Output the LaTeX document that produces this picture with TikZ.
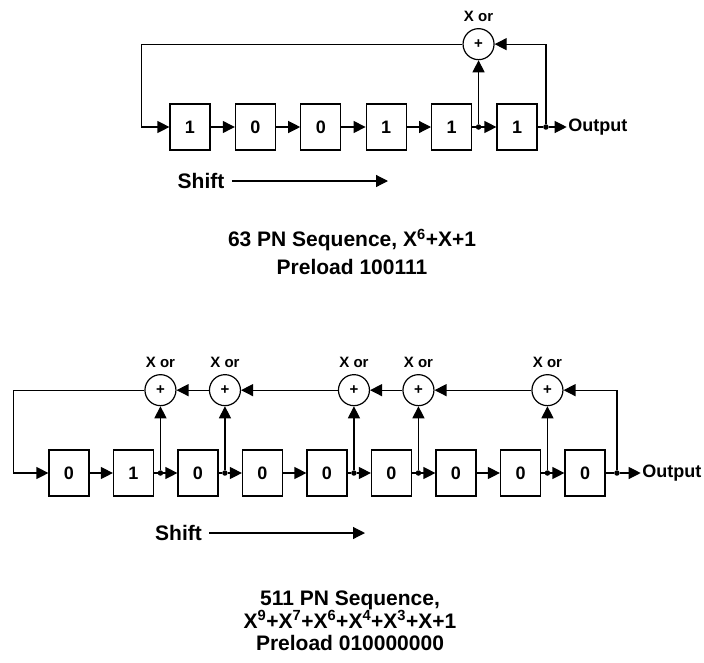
\documentclass[tikz,border=0pt]{standalone}
\usepackage{fontspec}
\setmainfont{Liberation Sans}
\usetikzlibrary{positioning,arrows.meta}

\begin{document}
\begin{tikzpicture}[x=1pt,y=-1pt,>={Triangle[length=12pt,width=12pt]},line width=1.2pt,
    reg/.style={draw,minimum width=40pt,minimum height=46pt,inner sep=0pt,font=\fontsize{18}{18}\selectfont\bfseries},
    xor/.style={circle,draw,minimum size=31pt,inner sep=0pt,font=\fontsize{15}{15}\selectfont\bfseries,
        label={[font=\fontsize{15}{15}\selectfont\bfseries,inner sep=0pt,label distance=6pt]above:X or}},
    dot/.style={circle,fill,inner sep=0pt,outer sep=0pt,minimum size=5.5pt},
    outtext/.style={inner sep=1pt,font=\fontsize{18}{18}\selectfont\bfseries},
    big/.style={font=\fontsize{21}{28}\selectfont\bfseries,align=center}]

    \useasboundingbox (0,0) rectangle (704,662);

    % 63 PN generator
    \node[reg] (r1) at (190,127) {1};
    \node[reg] (r2) [right=24.2pt of r1] {0};
    \node[reg] (r3) [right=24.2pt of r2] {0};
    \node[reg] (r4) [right=24.2pt of r3] {1};
    \node[reg] (r5) [right=24.2pt of r4] {1};
    \node[reg] (r6) [right=24.2pt of r5] {1};
    \node[dot] (p5) [right=3.6pt of r5] {};
    \node[dot] (po) [right=5.6pt of r6] {};
    \node[xor] (x1) [above=64pt of p5] {+};
    \node[outtext] (out1) [right=18pt of po] {Output};

    \path[->]
        (r1) edge (r2)
        (r2) edge (r3)
        (r3) edge (r4)
        (r4) edge (r5)
        (p5) edge (r6)
        (p5) edge (x1)
        (po) edge (out1)
        ;
    \path (r5) edge (p5) (r6) edge (po);
    \draw[->] (x1.west) -| ([xshift=-28pt]r1.west) -- (r1);
    \draw[->] (po) |- (x1.east);

    \node[big,inner xsep=7pt] (sh1) at (201,181) {Shift};
    \coordinate (se1) at (388,181);
    \draw[->] (sh1) -- (se1);

    \node[big] (cap1) at (352,252) {63 PN Sequence, X\textsuperscript{6}+X+1\\Preload 100111};

    % 511 PN generator
    \node[reg] (s1) at (69,473) {0};
    \node[reg] (s2) [right=23.3pt of s1] {1};
    \node[reg] (s3) [right=23.3pt of s2] {0};
    \node[reg] (s4) [right=23.3pt of s3] {0};
    \node[reg] (s5) [right=23.3pt of s4] {0};
    \node[reg] (s6) [right=23.3pt of s5] {0};
    \node[reg] (s7) [right=23.3pt of s6] {0};
    \node[reg] (s8) [right=23.3pt of s7] {0};
    \node[reg] (s9) [right=23.3pt of s8] {0};
    \node[dot] (q2) [right=3.6pt of s2] {};
    \node[dot] (q3) [right=3.6pt of s3] {};
    \node[dot] (q5) [right=3.6pt of s5] {};
    \node[dot] (q6) [right=3.6pt of s6] {};
    \node[dot] (q8) [right=3.6pt of s8] {};
    \node[dot] (qo) [right=8.6pt of s9] {};
    \node[xor] (y1) [above=64pt of q2] {+};
    \node[xor] (y2) [above=64pt of q3] {+};
    \node[xor] (y3) [above=64pt of q5] {+};
    \node[xor] (y4) [above=64pt of q6] {+};
    \node[xor] (y5) [above=64pt of q8] {+};
    \node[outtext] (out2) [right=21pt of qo] {Output};

    \path[->]
        (s1) edge (s2)
        (q2) edge (s3)
        (q3) edge (s4)
        (s4) edge (s5)
        (q5) edge (s6)
        (q6) edge (s7)
        (s7) edge (s8)
        (q8) edge (s9)
        (q2) edge (y1)
        (q3) edge (y2)
        (q5) edge (y3)
        (q6) edge (y4)
        (q8) edge (y5)
        (y5) edge (y4)
        (y4) edge (y3)
        (y3) edge (y2)
        (y2) edge (y1)
        (qo) edge (out2)
        ;
    \path (s2) edge (q2) (s3) edge (q3) (s5) edge (q5) (s6) edge (q6) (s8) edge (q8) (s9) edge (qo);
    \draw[->] (y1.west) -| ([xshift=-35pt]s1.west) -- (s1);
    \draw[->] (qo) |- (y5.east);

    \node[big,inner xsep=7pt] (sh2) at (178.5,533) {Shift};
    \coordinate (se2) at (365,533);
    \draw[->] (sh2) -- (se2);

    \node[big,font=\fontsize{21}{21.7}\selectfont\bfseries] (cap2) at (350,620.5)
        {511 PN Sequence,\\X\textsuperscript{9}+X\textsuperscript{7}+X\textsuperscript{6}+X\textsuperscript{4}+X\textsuperscript{3}+X+1\\Preload 010000000};
\end{tikzpicture}
\end{document}
